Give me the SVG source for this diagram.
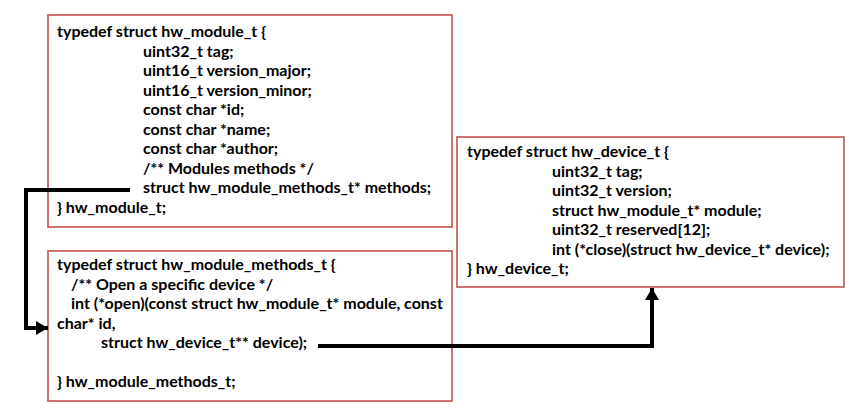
<svg xmlns="http://www.w3.org/2000/svg" width="845" height="412" viewBox="0 0 845 412">
<style>
.box{fill:#fff;stroke:#c0504d;stroke-width:1.6}
.t{font-family:Lato,"Liberation Sans",sans-serif;font-weight:bold;font-size:16px;fill:#000}
.c{fill:none;stroke:#000;stroke-width:4}
</style>
<defs>
<marker id="ah" markerUnits="userSpaceOnUse" markerWidth="14" markerHeight="14" refX="12" refY="7" orient="auto">
<path d="M0,0 L12,7 L0,14 Z" fill="#000"/>
</marker>
</defs>
<rect width="845" height="412" fill="#fff"/>
<g id="hw_module_t">
<rect class="box" x="48" y="15" width="404" height="212"/>
<text class="t" x="57" y="37">typedef struct hw_module_t {</text>
<text class="t" x="143" y="56.5">uint32_t tag;</text>
<text class="t" x="143" y="76">uint16_t version_major;</text>
<text class="t" x="143" y="95.5">uint16_t version_minor;</text>
<text class="t" x="143" y="115">const char *id;</text>
<text class="t" x="143" y="134.5">const char *name;</text>
<text class="t" x="143" y="154">const char *author;</text>
<text class="t" x="143" y="173.5">/** Modules methods */</text>
<text class="t" x="143" y="193">struct hw_module_methods_t* methods;</text>
<text class="t" x="57" y="212.5">} hw_module_t;</text>
</g>
<g id="hw_module_methods_t">
<rect class="box" x="48" y="251" width="404" height="150"/>
<text class="t" x="57" y="270">typedef struct hw_module_methods_t {</text>
<text class="t" x="71" y="289.5">/** Open a specific device */</text>
<text class="t" x="71" y="309">int (*open)(const struct hw_module_t* module, const</text>
<text class="t" x="57" y="328.5">char* id,</text>
<text class="t" x="101" y="348">struct hw_device_t** device);</text>
<text class="t" x="57" y="387">} hw_module_methods_t;</text>
</g>
<g id="hw_device_t">
<rect class="box" x="457" y="137" width="387" height="150"/>
<text class="t" x="467" y="157">typedef struct hw_device_t {</text>
<text class="t" x="552" y="176.5">uint32_t tag;</text>
<text class="t" x="552" y="196">uint32_t version;</text>
<text class="t" x="552" y="215.5">struct hw_module_t* module;</text>
<text class="t" x="552" y="235">uint32_t reserved[12];</text>
<text class="t" x="552" y="254.5">int (*close)(struct hw_device_t* device);</text>
<text class="t" x="467" y="274">} hw_device_t;</text>
</g>
<g id="connectors">
<path class="c" d="M130,190 H26 V328 H48" marker-end="url(#ah)"/>
<path class="c" d="M318,346 H652 V288" marker-end="url(#ah)"/>
</g>
</svg>
